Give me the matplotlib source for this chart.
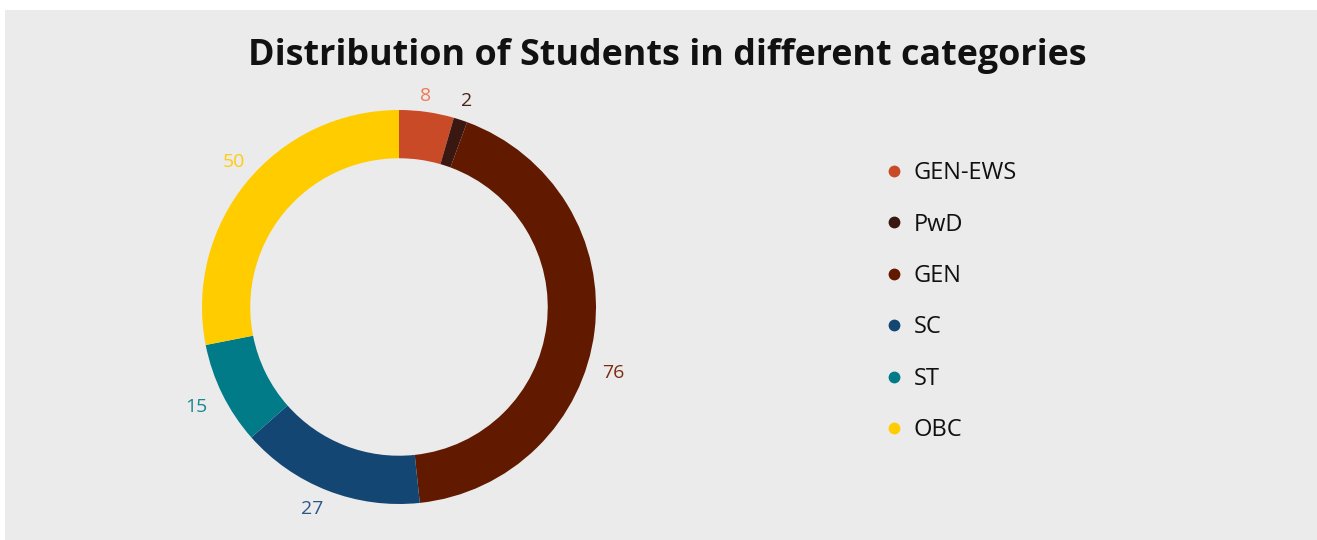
import matplotlib
matplotlib.use('Agg')
import matplotlib.pyplot as plt
from matplotlib.lines import Line2D
from matplotlib.patches import Rectangle
import numpy as np

plt.rcParams.update({'font.family': ['Open Sans', 'DejaVu Sans']})

categories = ['GEN-EWS', 'PwD', 'GEN', 'SC', 'ST', 'OBC']
counts = [8, 2, 76, 27, 15, 50]
colors = ['#C94A26', '#3B1711', '#611900', '#134673', '#017B87', '#FFCC00']
label_colors = ['#EE7A55', '#4A2218', '#7B2C12', '#2B5688', '#1A8893', '#FFCC11']

W, H = 1317, 540
fig = plt.figure(figsize=(W / 100, H / 100), dpi=100, facecolor='white')
fig.patches.append(Rectangle((5 / W, 0), 1 - 5 / W, 530 / H, transform=fig.transFigure,
                             facecolor='#EBEBEB', edgecolor='none', zorder=-10))

# donut: centre (399, 307) px, outer radius 197 px
cx, cy, r = 399, H - 307, 197
ax = fig.add_axes([(cx - r) / W, (cy - r) / H, 2 * r / W, 2 * r / H])
ax.patch.set_visible(False)
wedges, _ = ax.pie(counts, colors=colors, startangle=90, counterclock=False,
                   radius=1, wedgeprops=dict(width=0.245, linewidth=0))
ax.set_xlim(-1, 1)
ax.set_ylim(-1, 1)
ax.set_aspect('equal')
ax.axis('off')

# outside labels; the big GEN label sits a little lower than its mid-angle
shift = {'GEN-EWS': 0.8, 'GEN': -10, 'SC': -2, 'OBC': -2}
rad = {'GEN-EWS': 1.08, 'PwD': 1.10, 'GEN': 1.14, 'ST': 1.15}
for w, name, val, c in zip(wedges, categories, counts, label_colors):
    ang = np.deg2rad((w.theta1 + w.theta2) / 2 + shift.get(name, 0))
    rr = rad.get(name, 1.115)
    ax.text(rr * np.cos(ang), rr * np.sin(ang), str(val), color=c,
            fontsize=14, ha='center', va='center')

fig.text(667 / W, 1 - 56 / H, 'Distribution of Students in different categories',
         ha='center', va='center', fontsize=25.8, fontweight='bold', color='#111111')

handles = [Line2D([], [], marker='o', linestyle='none', markersize=8.5,
                  markerfacecolor=c, markeredgecolor='none') for c in colors]
fig.legend(handles, categories, loc='upper left', bbox_to_anchor=(863 / W, 1 - 140 / H),
           frameon=False, fontsize=17, labelspacing=1.16, handletextpad=0.45,
           handlelength=0.8, labelcolor='#111111')

fig.savefig('out.png', dpi=100, facecolor='white')
